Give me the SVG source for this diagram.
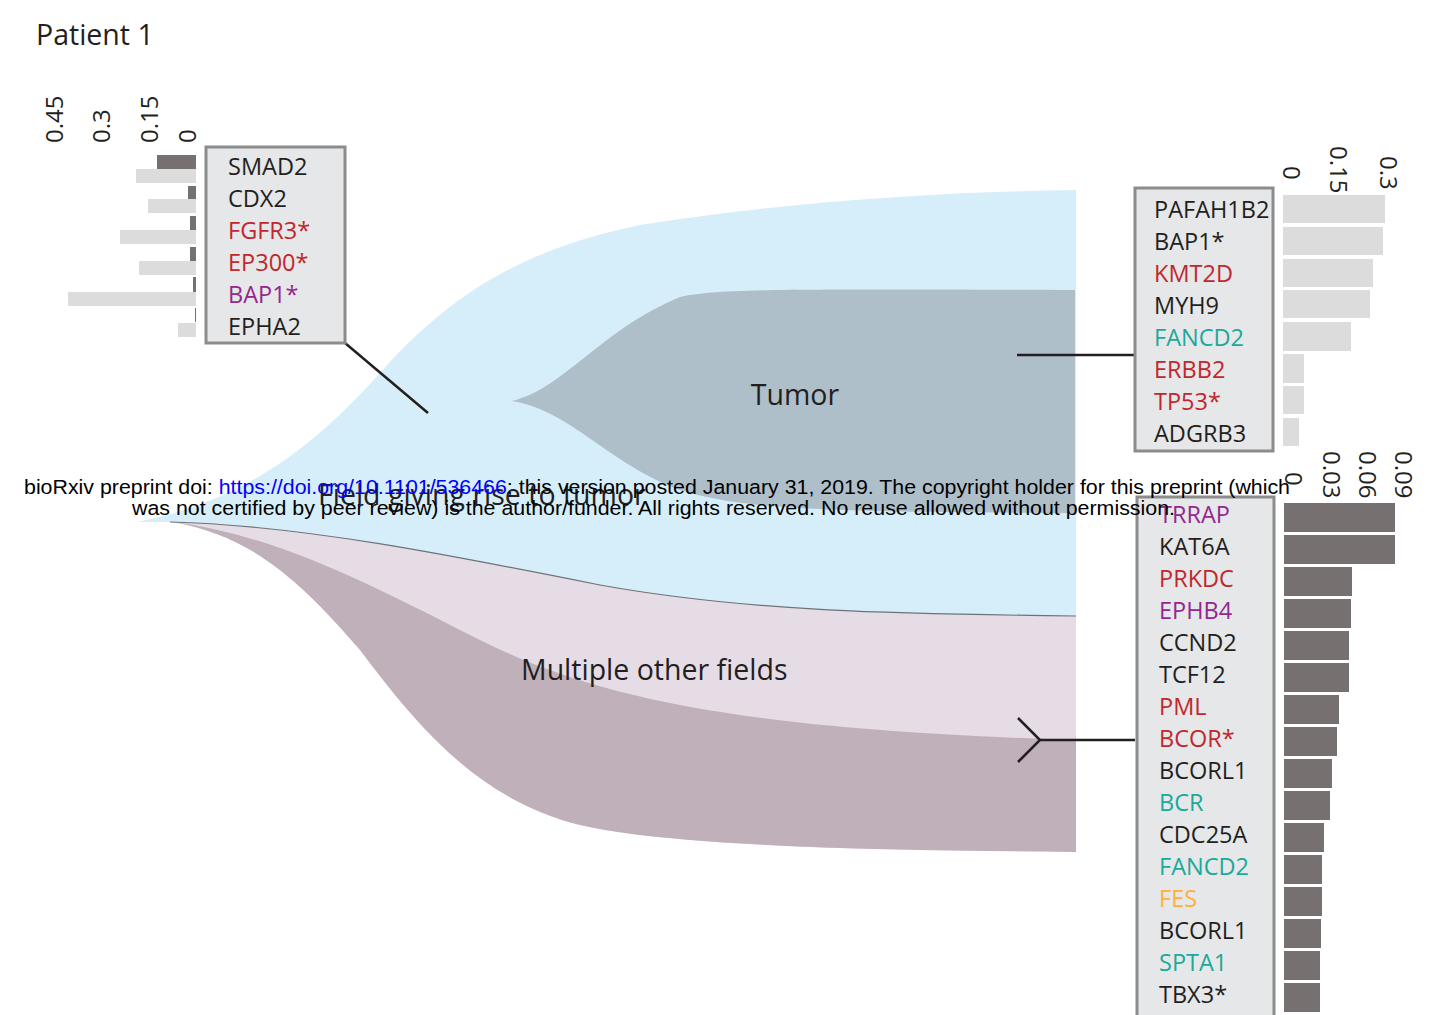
<svg xmlns="http://www.w3.org/2000/svg" width="1432" height="1015" viewBox="0 0 1432 1015">
<style>
text{font-family:"Open Sans","Noto Sans",sans-serif;fill:#231f20}
.g{font-size:23.5px}
.lbl{font-size:28.5px}
.ax{font-size:24px}
.r{fill:#c1272d}.p{fill:#93278f}.t{fill:#1ba99b}.o{fill:#fbb040}
.box{fill:#e6e7e8;stroke:#8c8c8c;stroke-width:3}
.lb{fill:#dcdcdc}.db{fill:#767170}
.con{stroke:#231f20;stroke-width:2.5;fill:none}
.wm{font-family:"Liberation Sans",Arial,sans-serif;font-size:20.5px;fill:#000}
</style>
<rect width="1432" height="1015" fill="#fff"/>
<g id="title"><text x="36" y="45" class="lbl">Patient 1</text></g>

<g id="field">
<path d="M137,522 C250,500 320,440 380,373 C450,295 520,250 640,225 C800,200 950,192 1076,190 L1076,616 C900,614 750,612 600,585 C450,555 300,525 170,522 Z" fill="#d6eef9"/>
</g>
<g id="tumor">
<path d="M512,401 C565,388 600,330 680,297 C720,289 760,289 1075,290 L1075,513 C800,512 740,508 680,490 C610,465 570,410 512,401 Z" fill="#aebfca"/>
<text x="795" y="405" class="lbl" text-anchor="middle">Tumor</text>
</g>
<g id="other-fields">
<path d="M170,522 C300,525 450,555 600,585 C750,612 900,614 1076,616 L1076,852 C900,850 680,848 580,825 C480,800 420,730 360,650 C300,580 250,535 172,522 Z" fill="#e6dce6"/>
<path d="M172,522 C280,535 380,590 480,640 C600,700 750,730 1076,740 L1076,852 C900,850 680,848 580,825 C480,800 420,730 360,650 C300,580 250,535 172,522 Z" fill="#c0b0b9"/>
<path d="M170,522 C300,525 450,555 600,585 C750,612 900,614 1076,616" fill="none" stroke="#6d7278" stroke-width="1.2"/>
<text x="521" y="680" class="lbl">Multiple other fields</text>
</g>
<g id="field-label"><text x="318" y="505" class="lbl">Field giving rise to tumor</text></g>

<g id="connectors">
<line class="con" x1="345" y1="343" x2="428" y2="413"/>
<line class="con" x1="1017" y1="355" x2="1135" y2="355"/>
<path class="con" d="M1135,740 L1040,740 M1018,718 L1040,740 L1018,762"/>
</g>

<g id="field-genes">
<rect class="box" x="206" y="147" width="139" height="196"/>
<text class="g" x="228" y="175">SMAD2</text>
<text class="g" x="228" y="207">CDX2</text>
<text class="g r" x="228" y="239">FGFR3*</text>
<text class="g r" x="228" y="271">EP300*</text>
<text class="g p" x="228" y="303">BAP1*</text>
<text class="g" x="228" y="335">EPHA2</text>
<g id="field-bars">
<rect class="db" x="157" y="155" width="39" height="14"/>
<rect class="lb" x="136" y="169" width="60" height="14"/>
<rect class="db" x="188" y="186" width="8" height="13"/>
<rect class="lb" x="148" y="199" width="48" height="14"/>
<rect class="db" x="190" y="216" width="6" height="14"/>
<rect class="lb" x="120" y="230" width="76" height="14"/>
<rect class="db" x="190" y="247" width="6" height="14"/>
<rect class="lb" x="139" y="261" width="57" height="14"/>
<rect class="db" x="193" y="277" width="3" height="15"/>
<rect class="lb" x="68" y="292" width="128" height="14"/>
<rect class="db" x="195" y="308" width="1" height="14"/>
<rect class="lb" x="178" y="323" width="18" height="14"/>
<text class="ax" transform="translate(63,143) rotate(-90)">0.45</text>
<text class="ax" transform="translate(110,143) rotate(-90)">0.3</text>
<text class="ax" transform="translate(158,143) rotate(-90)">0.15</text>
<text class="ax" transform="translate(196,143) rotate(-90)">0</text>
</g>
</g>

<g id="tumor-genes">
<rect class="box" x="1135" y="188" width="138" height="263"/>
<text class="g" x="1154" y="218">PAFAH1B2</text>
<text class="g" x="1154" y="250">BAP1*</text>
<text class="g r" x="1154" y="282">KMT2D</text>
<text class="g" x="1154" y="314">MYH9</text>
<text class="g t" x="1154" y="346">FANCD2</text>
<text class="g r" x="1154" y="378">ERBB2</text>
<text class="g r" x="1154" y="410">TP53*</text>
<text class="g" x="1154" y="442">ADGRB3</text>
<g id="tumor-bars">
<rect class="lb" x="1283" y="195" width="102" height="28"/>
<rect class="lb" x="1283" y="227" width="100" height="28"/>
<rect class="lb" x="1283" y="259" width="90" height="28"/>
<rect class="lb" x="1283" y="290" width="87" height="28"/>
<rect class="lb" x="1283" y="322" width="68" height="29"/>
<rect class="lb" x="1283" y="354" width="21" height="29"/>
<rect class="lb" x="1283" y="386" width="21" height="28"/>
<rect class="lb" x="1283" y="418" width="16" height="28"/>
<text class="ax" transform="translate(1283,166) rotate(90)">0</text>
<text class="ax" transform="translate(1330,146) rotate(90)">0.15</text>
<text class="ax" transform="translate(1380,156) rotate(90)">0.3</text>
</g>
</g>

<g id="other-genes">
<rect class="box" x="1137" y="497" width="137" height="530"/>
<text class="g p" x="1159" y="523">TRRAP</text>
<text class="g" x="1159" y="555">KAT6A</text>
<text class="g r" x="1159" y="587">PRKDC</text>
<text class="g p" x="1159" y="619">EPHB4</text>
<text class="g" x="1159" y="651">CCND2</text>
<text class="g" x="1159" y="683">TCF12</text>
<text class="g r" x="1159" y="715">PML</text>
<text class="g r" x="1159" y="747">BCOR*</text>
<text class="g" x="1159" y="779">BCORL1</text>
<text class="g t" x="1159" y="811">BCR</text>
<text class="g" x="1159" y="843">CDC25A</text>
<text class="g t" x="1159" y="875">FANCD2</text>
<text class="g o" x="1159" y="907">FES</text>
<text class="g" x="1159" y="939">BCORL1</text>
<text class="g t" x="1159" y="971">SPTA1</text>
<text class="g" x="1159" y="1003">TBX3*</text>
<g id="other-bars">
<rect class="db" x="1284" y="503" width="111" height="29"/>
<rect class="db" x="1284" y="535" width="111" height="29"/>
<rect class="db" x="1284" y="567" width="68" height="29"/>
<rect class="db" x="1284" y="599" width="67" height="29"/>
<rect class="db" x="1284" y="631" width="65" height="29"/>
<rect class="db" x="1284" y="663" width="65" height="29"/>
<rect class="db" x="1284" y="695" width="55" height="29"/>
<rect class="db" x="1284" y="727" width="53" height="29"/>
<rect class="db" x="1284" y="759" width="48" height="29"/>
<rect class="db" x="1284" y="791" width="46" height="29"/>
<rect class="db" x="1284" y="823" width="40" height="29"/>
<rect class="db" x="1284" y="855" width="38" height="29"/>
<rect class="db" x="1284" y="887" width="38" height="29"/>
<rect class="db" x="1284" y="919" width="37" height="29"/>
<rect class="db" x="1284" y="951" width="36" height="29"/>
<rect class="db" x="1284" y="983" width="36" height="29"/>
<text class="ax" transform="translate(1285,472) rotate(90)">0</text>
<text class="ax" transform="translate(1323,451) rotate(90)">0.03</text>
<text class="ax" transform="translate(1359,451) rotate(90)">0.06</text>
<text class="ax" transform="translate(1395,451) rotate(90)">0.09</text>
</g>
</g>

<g id="watermark">
<text class="wm" x="24" y="494" textLength="1266" lengthAdjust="spacingAndGlyphs">bioRxiv preprint doi: <tspan fill="#0000ff">https://doi.org/10.1101/536466</tspan>; this version posted January 31, 2019. The copyright holder for this preprint (which</text>
<text class="wm" x="132" y="515" textLength="1043" lengthAdjust="spacingAndGlyphs">was not certified by peer review) is the author/funder. All rights reserved. No reuse allowed without permission.</text>
</g>
</svg>
